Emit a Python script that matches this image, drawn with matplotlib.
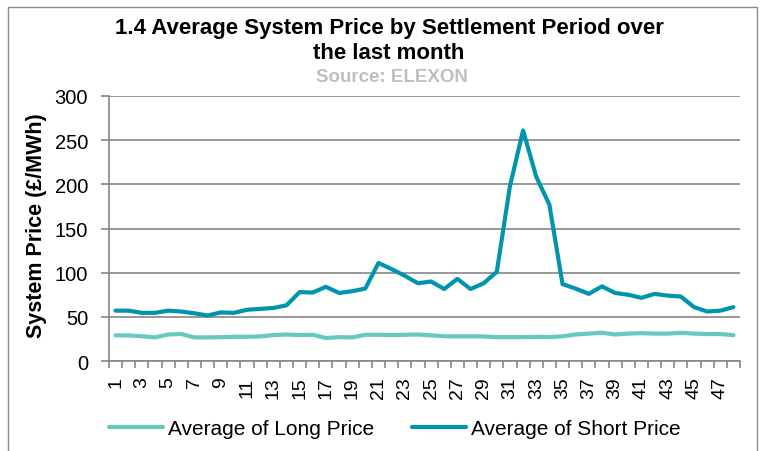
import matplotlib
matplotlib.use("Agg")
import matplotlib.pyplot as plt
from matplotlib.patches import Rectangle
import numpy as np

periods = list(range(1, 49))
long_price = [29, 29, 28, 26.7, 30, 30.5, 26.7, 26.7, 27, 27.4, 27.4, 27.8, 29.3, 30, 29.3, 29.7,
              26, 27, 26.7, 29.7, 29.7, 29.3, 29.7, 30, 29, 28, 28, 28, 27.8, 27, 27, 27,
              27.4, 27, 28, 30, 31, 32, 30, 31, 31.5, 31, 31, 32, 31, 30.5, 30.5, 29.3]
short_price = [57, 57, 54.5, 54.5, 57, 56, 54, 51.5, 55, 54.5, 58, 59, 60, 63, 78, 77.5,
               84, 77, 79, 82, 111, 104, 96.5, 88, 90, 81.5, 93, 81.5, 88, 101, 198, 261,
               208.6, 177, 87, 82, 76, 84.5, 77, 75, 71.5, 76, 74, 73, 61, 56, 57, 61]
title = "1.4 Average System Price by Settlement Period over\nthe last month"
subtitle = "Source: ELEXON"
ylabel = "System Price (£/MWh)"
series_names = ["Average of Long Price", "Average of Short Price"]

plt.rcParams['font.family'] = ['Liberation Sans', 'DejaVu Sans']

fig = plt.figure(figsize=(7.68, 4.52), dpi=100)
fig.patches.append(Rectangle((8/768, -0.1), (757-8)/768, 1 - 8/452 + 0.1, transform=fig.transFigure,
                             fill=False, edgecolor='#8c8c8c', linewidth=1.0))
ax = fig.add_axes([109/768, 1-362/452, (740-109)/768, (362-97)/452])

x = np.arange(len(periods))
ax.plot(x, long_price, color='#66c8c0', lw=3.0, solid_capstyle='round', label=series_names[0])
ax.plot(x, short_price, color='#0094ae', lw=3.0, solid_capstyle='round', label=series_names[1])

ax.set_xlim(-0.5, len(periods) - 0.5)
ax.set_ylim(0, 300)
ax.set_yticks(np.arange(0, 301, 50))
ax.yaxis.grid(True, color='#868686', lw=1.2)
ax.set_axisbelow(True)
for s in ['top', 'right']:
    ax.spines[s].set_visible(False)
for s in ['left', 'bottom']:
    ax.spines[s].set_color('#868686')
    ax.spines[s].set_linewidth(1.2)

ax.set_xticks(np.arange(-0.5, len(periods), 1))
ax.set_xticklabels([])
ax.set_xticks(x[::2], minor=True)
ax.set_xticklabels([str(p) for p in periods[::2]], minor=True, rotation=90, fontsize=14)
ax.tick_params(axis='x', which='major', length=5, color='#868686', width=1.2)
ax.tick_params(axis='x', which='minor', length=0, pad=11)
ax.tick_params(axis='y', length=6, color='#868686', width=1.2, labelsize=14.5, pad=9)

ax.set_ylabel(ylabel, fontsize=15.5, fontweight='bold')
ax.yaxis.set_label_coords(-0.098, 0.514)

fig.text(389/768, 1-41/452, title, ha='center', va='center', fontsize=16, fontweight='bold',
         linespacing=1.2)
fig.text(392/768, 1-78/452, subtitle, ha='center', va='center', fontsize=13.5, fontweight='bold',
         color='#bfbfbf')

fig.legend(loc='center', bbox_to_anchor=(395/768, 1-430/452), ncol=2, frameon=False,
           fontsize=15, handlelength=2.6, handletextpad=0.25, columnspacing=1.8)

fig.savefig("out.png", dpi=100)
